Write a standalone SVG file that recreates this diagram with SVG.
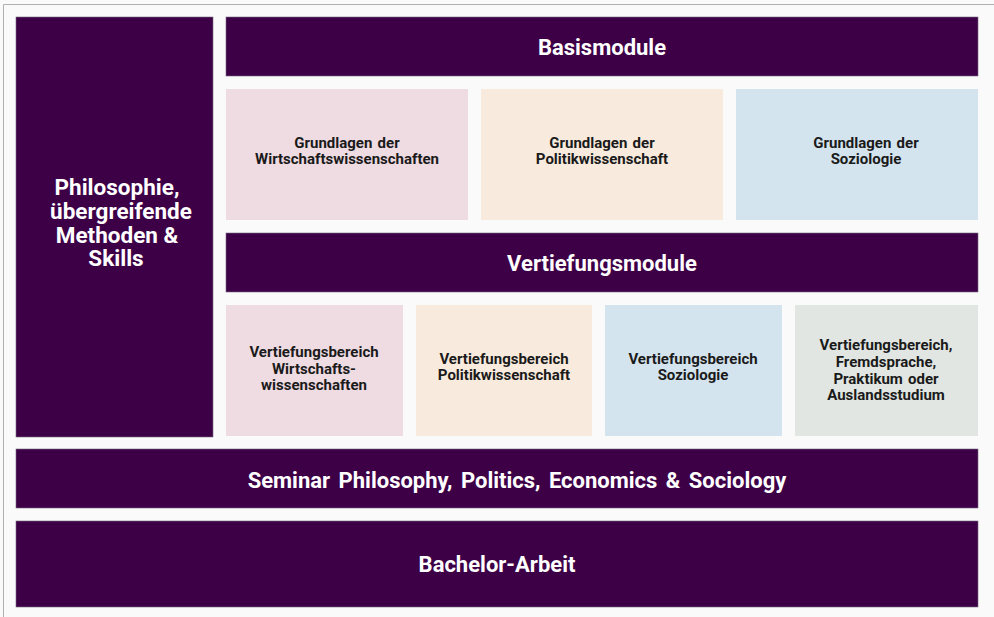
<svg xmlns="http://www.w3.org/2000/svg" width="994" height="617" viewBox="0 0 994 617">
<style>
.bg{fill:#fafafa}
.dark{fill:#3d0047;stroke:#7a6a80;stroke-width:0.6}
.t{font-family:Roboto,"Liberation Sans",sans-serif;font-weight:700;fill:#ffffff;font-size:22px;text-anchor:middle}
.big{font-size:22.5px}
.s{font-family:Roboto,"Liberation Sans",sans-serif;font-weight:700;fill:#1a1a1a;font-size:15px;text-anchor:middle;word-spacing:1.5px}
.pink{fill:#efdbe2}
.beige{fill:#f8ebdd}
.blue{fill:#d4e4ef}
.gray{fill:#e1e6e2}
</style>
<rect x="0" y="0" width="994" height="617" class="bg"/>
<path d="M3.5 617 V4.5 H994" fill="none" stroke="#b0b0b0" stroke-width="1"/>
<g id="philosophie">
<rect x="16" y="17" width="197" height="420" class="dark"/>
<text class="t big"><tspan x="117" y="195">Philosophie,</tspan><tspan x="121" y="219">übergreifende</tspan><tspan x="117" y="243">Methoden &amp;</tspan><tspan x="116" y="266">Skills</tspan></text>
</g>
<g id="basismodule">
<rect x="226" y="17" width="752" height="59" class="dark"/>
<text class="t" x="602" y="55">Basismodule</text>
</g>
<g id="grundlagen-wiwi">
<rect x="226" y="89" width="242" height="131" class="pink"/>
<text class="s"><tspan x="347" y="148">Grundlagen der</tspan><tspan x="347" y="164">Wirtschaftswissenschaften</tspan></text>
</g>
<g id="grundlagen-powi">
<rect x="481" y="89" width="242" height="131" class="beige"/>
<text class="s"><tspan x="602" y="148">Grundlagen der</tspan><tspan x="602" y="164">Politikwissenschaft</tspan></text>
</g>
<g id="grundlagen-sozio">
<rect x="736" y="89" width="242" height="131" class="blue"/>
<text class="s"><tspan x="866" y="148">Grundlagen der</tspan><tspan x="866" y="164">Soziologie</tspan></text>
</g>
<g id="vertiefungsmodule">
<rect x="226" y="233" width="752" height="59" class="dark"/>
<text class="t" x="602" y="271">Vertiefungsmodule</text>
</g>
<g id="vb-wiwi">
<rect x="226" y="305" width="177" height="131" class="pink"/>
<text class="s"><tspan x="314" y="357">Vertiefungsbereich</tspan><tspan x="314" y="374">Wirtschafts-</tspan><tspan x="314" y="390">wissenschaften</tspan></text>
</g>
<g id="vb-powi">
<rect x="416" y="305" width="176" height="131" class="beige"/>
<text class="s"><tspan x="504" y="364">Vertiefungsbereich</tspan><tspan x="504" y="380">Politikwissenschaft</tspan></text>
</g>
<g id="vb-sozio">
<rect x="605" y="305" width="177" height="131" class="blue"/>
<text class="s"><tspan x="693" y="364">Vertiefungsbereich</tspan><tspan x="693" y="380">Soziologie</tspan></text>
</g>
<g id="vb-sonst">
<rect x="795" y="305" width="183" height="131" class="gray"/>
<text class="s"><tspan x="886" y="350">Vertiefungsbereich,</tspan><tspan x="886" y="367">Fremdsprache,</tspan><tspan x="886" y="384">Praktikum oder</tspan><tspan x="886" y="400">Auslandsstudium</tspan></text>
</g>
<g id="seminar">
<rect x="16" y="449" width="962" height="59" class="dark"/>
<text class="t" x="517" y="488" word-spacing="3">Seminar Philosophy, Politics, Economics &amp; Sociology</text>
</g>
<g id="bachelor">
<rect x="16" y="521" width="962" height="86" class="dark"/>
<text class="t" x="497" y="572">Bachelor-Arbeit</text>
</g>
<g id="connectors"/>
</svg>
